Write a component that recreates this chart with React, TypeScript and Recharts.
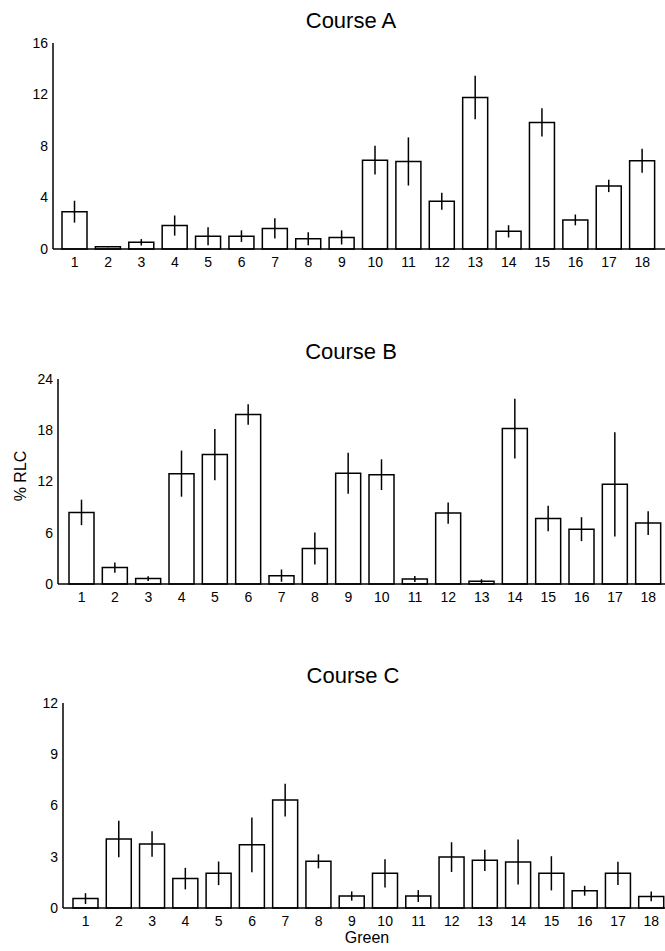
import { Bar, BarChart, ErrorBar, XAxis, YAxis } from 'recharts'

const greens = ['1', '2', '3', '4', '5', '6', '7', '8', '9', '10', '11', '12', '13', '14', '15', '16', '17', '18']

// Course A – mean %RLC and error half-length
const courseAValues = [2.9, 0.18, 0.52, 1.82, 0.99, 1.0, 1.6, 0.8, 0.9, 6.9, 6.8, 3.7, 11.77, 1.37, 9.83, 2.26, 4.9, 6.85]
const courseAErrors = [0.85, 0.05, 0.25, 0.78, 0.7, 0.45, 0.78, 0.5, 0.55, 1.12, 1.87, 0.66, 1.69, 0.48, 1.1, 0.42, 0.48, 0.93]
const courseATicks = [0, 4, 8, 12, 16]

// Course B
const courseBValues = [8.38, 1.92, 0.63, 12.92, 15.15, 19.85, 0.98, 4.15, 12.96, 12.8, 0.59, 8.3, 0.31, 18.2, 7.67, 6.42, 11.67, 7.13]
const courseBErrors = [1.49, 0.59, 0.27, 2.7, 3.0, 1.2, 0.72, 1.88, 2.4, 1.8, 0.35, 1.25, 0.25, 3.5, 1.5, 1.4, 6.1, 1.4]
const courseBTicks = [0, 6, 12, 18, 24]

// Course C
const courseCValues = [0.55, 4.04, 3.75, 1.72, 2.03, 3.7, 6.32, 2.73, 0.7, 2.03, 0.7, 2.98, 2.79, 2.69, 2.03, 1.01, 2.03, 0.68]
const courseCErrors = [0.32, 1.07, 0.75, 0.63, 0.69, 1.6, 0.96, 0.41, 0.27, 0.83, 0.35, 0.87, 0.62, 1.32, 1.0, 0.29, 0.68, 0.28]
const courseCTicks = [0, 3, 6, 9, 12]

const FONT = '"Liberation Sans", Arial, sans-serif'

interface PanelProps {
  values: number[]
  errors: number[]
  ticks: number[]
  top: number
  width: number
  height: number
  marginTop: number
  axisX: number
  xAxisHeight: number
  padLeft: number
  padRight: number
}

function Panel(p: PanelProps) {
  const data = greens.map((g, i) => ({ green: g, value: p.values[i], err: p.errors[i] }))
  return (
    <div style={{ position: 'absolute', left: 0, top: p.top, width: 665, height: p.height, overflow: 'hidden' }}>
      <BarChart
        width={p.width}
        height={p.height}
        data={data}
        margin={{ top: p.marginTop, right: 0, bottom: 0, left: 0 }}
        barCategoryGap="12%"
      >
        <XAxis
          dataKey="green"
          height={p.xAxisHeight}
          padding={{ left: p.padLeft, right: p.padRight }}
          tickLine={false}
          axisLine={{ stroke: '#000', strokeWidth: 1.5 }}
          tick={{ fill: '#000', fontSize: 14, fontFamily: FONT }}
          interval={0}
        />
        <YAxis
          width={p.axisX}
          domain={[p.ticks[0], p.ticks[p.ticks.length - 1]]}
          ticks={p.ticks}
          tickLine={false}
          tickSize={3}
          tickMargin={2}
          axisLine={{ stroke: '#000', strokeWidth: 1.5 }}
          tick={{ fill: '#000', fontSize: 14, fontFamily: FONT }}
        />
        <Bar dataKey="value" fill="#fff" stroke="#000" strokeWidth={1.5} isAnimationActive={false}>
          <ErrorBar dataKey="err" width={0} stroke="#000" strokeWidth={1.5} direction="y" isAnimationActive={false} />
        </Bar>
      </BarChart>
    </div>
  )
}

function Title({ text, cx, cy }: { text: string; cx: number; cy: number }) {
  return (
    <div
      style={{
        position: 'absolute',
        left: cx - 100,
        top: cy - 11,
        width: 200,
        textAlign: 'center',
        fontFamily: FONT,
        fontSize: 22,
        lineHeight: '22px',
        color: '#000',
      }}
    >
      {text}
    </div>
  )
}

export default function App() {
  return (
    <div style={{ position: 'absolute', left: 0, top: 0, width: 665, height: 951, background: '#fff', overflow: 'hidden' }}>
      <Title text="Course A" cx={351} cy={21} />
      <Panel
        values={courseAValues}
        errors={courseAErrors}
        ticks={courseATicks}
        top={0}
        width={665}
        height={275}
        marginTop={43}
        axisX={53}
        xAxisHeight={26}
        padLeft={5}
        padRight={6}
      />

      <Title text="Course B" cx={351} cy={352} />
      <Panel
        values={courseBValues}
        errors={courseBErrors}
        ticks={courseBTicks}
        top={330}
        width={665}
        height={280}
        marginTop={49}
        axisX={58}
        xAxisHeight={26}
        padLeft={7}
        padRight={0}
      />
      <div
        style={{
          position: 'absolute',
          left: 21 - 40,
          top: 476 - 10,
          width: 80,
          height: 20,
          textAlign: 'center',
          fontFamily: FONT,
          fontSize: 16,
          lineHeight: '20px',
          transform: 'rotate(-90deg)',
        }}
      >
        % RLC
      </div>

      <Title text="Course C" cx={353} cy={676} />
      <Panel
        values={courseCValues}
        errors={courseCErrors}
        ticks={courseCTicks}
        top={680}
        width={668}
        height={271}
        marginTop={23}
        axisX={63}
        xAxisHeight={43}
        padLeft={6}
        padRight={0}
      />
      <div
        style={{
          position: 'absolute',
          left: 317,
          top: 929,
          width: 100,
          textAlign: 'center',
          fontFamily: FONT,
          fontSize: 16,
          lineHeight: '18px',
        }}
      >
        Green
      </div>
    </div>
  )
}
